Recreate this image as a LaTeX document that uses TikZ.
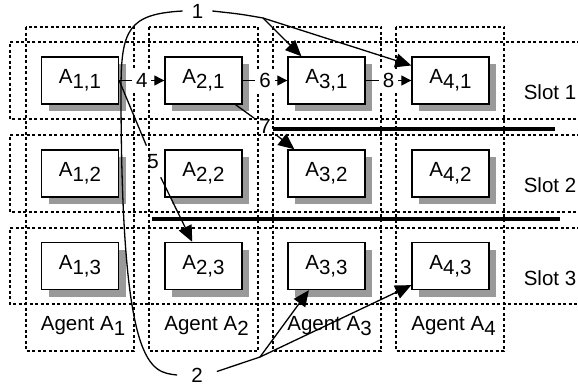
\documentclass[tikz,border=0pt]{standalone}
\usepackage{fontspec}
\setmainfont{Liberation Sans}
\usetikzlibrary{arrows.meta,shadows}
% digits set on a lowered baseline, same size as the letter
\newcommand{\lowered}[1]{\raisebox{-5bp}{#1}}

\begin{document}
\begin{tikzpicture}[x=1bp,y=1bp,
  every node/.style={font=\fontsize{20.5bp}{24bp}\selectfont},
  area/.style={draw, line width=1.1bp, dash pattern=on 3bp off 2.5bp},
  task/.style={draw, fill=white, line width=1.4bp, minimum width=77bp,
    minimum height=47bp, inner sep=0pt,
    general shadow={fill=black!40, shadow xshift=7bp, shadow yshift=-7bp}},
  link/.style={line width=1.3bp},
  head/.style={-{Triangle[length=10bp,width=10bp]}},
  bighead/.style={-{Triangle[length=16bp,width=14bp]}},
  numlbl/.style={fill=white, inner sep=4bp},
  bar/.style={line width=3.2bp}
]
\useasboundingbox (0,0) rectangle (578,-386);

% slots (rows) and agents (columns)
\draw[area] (580,-42)  -- (10,-42)  -- (10,-119) -- (580,-119);
\draw[area] (580,-135) -- (10,-135) -- (10,-212) -- (580,-212);
\draw[area] (580,-228) -- (10,-228) -- (10,-304) -- (580,-304);
\draw[area] (26,-27)  rectangle (134,-351);
\draw[area] (149,-27) rectangle (258,-351);
\draw[area] (273,-27) rectangle (381,-351);
\draw[area] (396,-27) rectangle (504,-351);

% slot boundaries
\draw[bar] (273,-129) -- (555,-129);
\draw[bar] (152,-219) -- (560,-219);

% tasks
\node[task] (a11) at (80,-80.5)    {A\lowered{1,1}};
\node[task] (a21) at (203.5,-80.5) {A\lowered{2,1}};
\node[task] (a31) at (326.5,-80.5) {A\lowered{3,1}};
\node[task] (a41) at (450.5,-80.5) {A\lowered{4,1}};
\node[task] (a12) at (80,-173.5)    {A\lowered{1,2}};
\node[task] (a22) at (203.5,-173.5) {A\lowered{2,2}};
\node[task] (a32) at (326.5,-173.5) {A\lowered{3,2}};
\node[task] (a42) at (450.5,-173.5) {A\lowered{4,2}};
\node[task] (a13) at (80,-266)    {A\lowered{1,3}};
\node[task] (a23) at (203.5,-266) {A\lowered{2,3}};
\node[task] (a33) at (326.5,-266) {A\lowered{3,3}};
\node[task] (a43) at (450.5,-266) {A\lowered{4,3}};

% labels
\node (ag1) at (83,-326)  {Agent A\lowered{1}};
\node (ag2) at (206.5,-326) {Agent A\lowered{2}};
\node (ag3) at (329.5,-326) {Agent A\lowered{3}};
\node (ag4) at (453.5,-326) {Agent A\lowered{4}};
\node (s1) at (550,-92.5)  {Slot 1};
\node (s2) at (550,-185.5) {Slot 2};
\node (s3) at (550,-278)   {Slot 3};

% numbered messages
\node[inner sep=9bp]   (l1) at (197.5,-11) {1};
\node[inner sep=14bp]  (l2) at (197,-375)  {2};
\node[inner sep=5bp]   (l7) at (265,-126)  {7};
\node[inner sep=8.5bp] (l5) at (153,-161.5) {5};
\coordinate (b1) at (263,-18);
\coordinate (b2) at (260,-357);

\draw[link,head] (a11.east) -- node[numlbl]{4} (a21.west);
\draw[link,head] (a21.east) -- node[numlbl]{6} (a31.west);
\draw[link,head] (a31.east) -- node[numlbl]{8} (a41.west);

\draw[link] (a11.east) -- (l5);
\draw[link,bighead] (l5) -- (a23.115);
\draw[link] (a21.-37) -- (l7);
\draw[link,bighead] (l7) -- (a32.143);

\draw[link] (l1.west) .. controls (128,-14) and (121,-30) .. (121,-90)
  .. controls (121,-370) and (150,-372) .. (l2.west);
\draw[link] (l1.east) .. controls (240,-14) .. (b1);
\draw[link,bighead] (b1) -- (a31.136);
\draw[link,bighead] (b1) -- (a41.159);
\draw[link] (l2.10) -- (b2);
\draw[link,bighead] (b2) -- (a33.234);
\draw[link,bighead] (b2) -- (a43.206);
\end{tikzpicture}
\end{document}
